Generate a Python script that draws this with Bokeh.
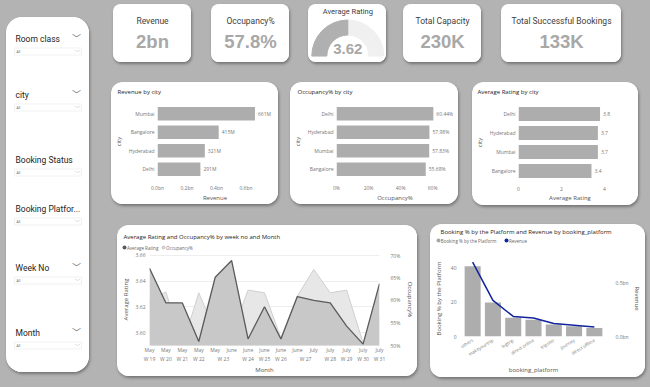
import math
from bokeh.plotting import figure
from bokeh.layouts import row, column
from bokeh.models import (ColumnDataSource, FactorRange, Range1d, LinearAxis, FixedTicker,
                          NumeralTickFormatter)
from bokeh.embed import file_html
from bokeh.resources import INLINE
from bokeh.core.properties import value

# ---------------- data ----------------
filter_names = ["Room class", "city", "Booking Status", "Booking Platfor...", "Week No", "Month"]
filter_chevron = [True, True, False, False, True, True]
filter_default = "All"

kpi_labels = ["Revenue", "Occupancy%", "Total Capacity", "Total Successful Bookings"]
kpi_values = ["2bn", "57.8%", "230K", "133K"]
gauge_label = "Average Rating"
gauge_value = 3.62
gauge_max = 7.24

rev_cities = ["Mumbai", "Bangalore", "Hyderabad", "Delhi"]
rev_values = [661e6, 415e6, 321e6, 291e6]
rev_labels = ["661M", "415M", "321M", "291M"]
rev_ticks = [0, 0.2e9, 0.4e9, 0.6e9]
rev_tick_labels = ["0.0bn", "0.2bn", "0.4bn", "0.6bn"]

occ_cities = ["Delhi", "Hyderabad", "Mumbai", "Bangalore"]
occ_values = [0.6044, 0.5798, 0.5783, 0.5568]
occ_labels = ["60.44%", "57.98%", "57.83%", "55.68%"]
occ_ticks = [0, 0.2, 0.4, 0.6]

rat_cities = ["Delhi", "Hyderabad", "Mumbai", "Bangalore"]
rat_values = [3.8, 3.7, 3.7, 3.4]
rat_labels = ["3.8", "3.7", "3.7", "3.4"]
rat_ticks = [0, 2, 4]

week_nos = ["W 19", "W 20", "W 21", "W 22", "W 23", "W 23", "W 24", "W 25", "W 26", "W 27",
            "W 27", "W 28", "W 29", "W 30", "W 31"]
week_months = ["May", "May", "May", "May", "May", "June", "June", "June", "June", "June",
               "July", "July", "July", "July", "July"]
weekly_rating = [3.650, 3.623, 3.623, 3.593, 3.643, 3.656, 3.595, 3.620, 3.595, 3.628,
                 3.625, 3.623, 3.605, 3.591, 3.638]
weekly_occ = [0.599, 0.619, 0.500, 0.617, 0.532, 0.526, 0.623, 0.617, 0.517, 0.610,
              0.669, 0.617, 0.623, 0.506, 0.560]
rating_ticks = [3.60, 3.62, 3.64, 3.66]
occ_axis_ticks = [0.50, 0.55, 0.60, 0.65, 0.70]
line_legend = ["Average Rating", "Occupancy%"]

platforms = ["others", "makeyourtrip", "logtrip", "direct online", "tripster", "journey", "direct offline"]
platform_pct = [41.0, 19.8, 10.9, 9.8, 7.0, 6.0, 4.9]
platform_rev = [0.697e9, 0.339e9, 0.188e9, 0.173e9, 0.121e9, 0.106e9, 0.088e9]
pct_ticks = [0, 20, 40]
prev_ticks = [0, 0.5e9]
prev_tick_labels = ["0.0bn", "0.5bn"]
booking_legend = ["Booking % by the Platform", "Revenue"]

# ---------------- styles ----------------
BG = "#b3b3b3"
BAR = "#adadad"
FONT = "Open Sans"
LFONT = "Roboto"
TITLE_C = "#252423"
TICK_C = "#777777"
AXL_C = "#555555"
DARK = "#5a5a5a"
NAVY = "#12239E"


def card_style(radius):
    return {"background-color": "white", "border-radius": f"{radius}px", "overflow": "hidden",
            "box-shadow": "1px 2px 3px rgba(0,0,0,0.35)"}


def plain(w, h, **kw):
    p = figure(width=w, height=h, output_backend="svg", toolbar_location=None, tools="",
               frame_align=False, **kw)
    p.outline_line_color = None
    p.border_fill_color = "white"
    p.background_fill_color = "white"
    return p


def canvas(w, h, flip=True):
    p = plain(w, h, x_range=Range1d(0, w), y_range=Range1d(h, 0) if flip else Range1d(0, h),
              x_axis_type=None, y_axis_type=None, min_border=0)
    p.grid.visible = False
    return p


def header(w, hh, title, tx, ty, legend=None):
    h = canvas(w, hh)
    h.text(x=[tx], y=[ty], text=[title], text_font=value(FONT), text_font_size="6px",
           text_color=TITLE_C, text_baseline="middle")
    if legend:
        labels, colors, bx, lx, ly = legend
        h.scatter(x=bx, y=[ly] * len(labels), size=4, fill_color=colors, line_color=None)
        h.text(x=lx, y=[ly] * len(labels), text=labels, text_font=value(FONT), text_font_size="4.5px",
               text_color="#666666", text_baseline="middle")
    return h


def style_axis(ax, label_size="5px"):
    ax.axis_line_color = None
    ax.major_tick_line_color = None
    ax.minor_tick_line_color = None
    ax.major_tick_out = 0
    ax.major_tick_in = 0
    ax.major_label_text_font_size = label_size
    ax.major_label_text_color = TICK_C
    ax.major_label_text_font = FONT
    ax.axis_label_text_font_size = "6px"
    ax.axis_label_text_color = AXL_C
    ax.axis_label_text_font = FONT
    ax.axis_label_text_font_style = "normal"


# ---------------- filter panel ----------------
PW, PH = 83, 355
panel = canvas(PW, PH)
panel.margin = (17, 0, 0, 6)
panel.styles = card_style(16)
label_y = [21, 77, 142, 191, 250, 315]
all_y = [y + 13 for y in label_y]
panel.text(x=[9] * 6, y=label_y, text=filter_names, text_font=value(LFONT), text_font_size="8.5px",
           text_color="#252423", text_baseline="middle")
panel.rect(x=[41.5] * 6, y=all_y, width=67, height=7, fill_color=None, line_color="#ededed",
           line_width=0.8)
panel.text(x=[10] * 6, y=all_y, text=[filter_default] * 6, text_font=value(FONT), text_font_size="3.5px",
           text_color="#666666", text_baseline="middle")
chev_y = [y for y, c in zip(label_y, filter_chevron) if c]
panel.text(x=[70] * len(chev_y), y=chev_y, text=["\ufe40"] * len(chev_y),
           text_font=value("Noto Sans CJK JP"), text_font_size="9px", text_color="#666666",
           text_align="center", text_baseline="middle")
panel.text(x=[71] * 6, y=all_y, text=["\ufe40"] * 6, text_font=value("Noto Sans CJK JP"),
           text_font_size="5px", text_color="#999999", text_align="center", text_baseline="middle")

# ---------------- KPI cards ----------------
KH = 58


def kpi(label, val, w, margin):
    p = canvas(w, KH)
    p.margin = margin
    p.styles = card_style(8)
    p.text(x=[w / 2], y=[16], text=[label], text_font=value(LFONT), text_font_size="8.5px",
           text_color="#404040", text_align="center", text_baseline="middle")
    p.text(x=[w / 2], y=[37], text=[val], text_font=value("Liberation Sans"), text_font_style="bold",
           text_font_size="18.5px", text_color="#a8a8a8", text_align="center", text_baseline="middle")
    return p


kpi_rev = kpi(kpi_labels[0], kpi_values[0], 78, (0, 0, 0, 2))
kpi_occ = kpi(kpi_labels[1], kpi_values[1], 78, (0, 0, 0, 20))

gauge = canvas(78, KH, flip=False)
gauge.margin = (0, 0, 0, 19)
gauge.styles = card_style(8)
gauge.annular_wedge(x=[39.3], y=[6.5], inner_radius=21, outer_radius=36, start_angle=0,
                    end_angle=math.pi, inner_radius_units="screen", outer_radius_units="screen",
                    color="#f0f0f0")
gauge.annular_wedge(x=[39.3], y=[6.5], inner_radius=21, outer_radius=36,
                    start_angle=[math.pi - math.pi * gauge_value / gauge_max], end_angle=math.pi,
                    inner_radius_units="screen", outer_radius_units="screen", color="#b0b0b0")
gauge.text(x=[39.3], y=[51.5], text=[gauge_label], text_font=value(LFONT), text_font_size="7.5px",
           text_color="#404040", text_align="center", text_baseline="middle")
gauge.text(x=[39.3], y=[13.5], text=[f"{gauge_value:.2f}"], text_font=value("Liberation Sans"),
           text_font_style="bold", text_font_size="15px", text_color="#a8a8a8",
           text_align="center", text_baseline="middle")

kpi_cap = kpi(kpi_labels[2], kpi_values[2], 78, (0, 0, 0, 17))
kpi_book = kpi(kpi_labels[3], kpi_values[3], 120, (0, 0, 0, 20))


# ---------------- bar cards ----------------
def hbar_card(w, h, margin, title, title_x, cats, vals, labels, xmax, ticks, xlabel,
              left, right, bottom, overrides=None, fmt=None):
    HH = 18
    hd = header(w, HH, title, title_x, 9)
    p = plain(w, h - HH, y_range=FactorRange(*reversed(cats)), x_range=Range1d(0, xmax),
              min_border_left=left, min_border_right=right, min_border_top=4,
              min_border_bottom=bottom)
    src = ColumnDataSource(dict(c=cats, v=vals, lab=labels))
    p.hbar(y="c", right="v", height=0.74, source=src, fill_color=BAR, line_color=None)
    p.text(x="v", y="c", text="lab", source=src, x_offset=3, text_font=value(FONT),
           text_font_size="5px", text_color=TICK_C, text_baseline="middle")
    p.grid.grid_line_color = None
    p.xaxis.ticker = FixedTicker(ticks=ticks)
    if overrides:
        p.xaxis.major_label_overrides = overrides
    if fmt:
        p.xaxis.formatter = fmt
    p.xaxis.axis_label = xlabel
    p.yaxis.axis_label = "city"
    style_axis(p.xaxis)
    style_axis(p.yaxis)
    p.xaxis.major_label_standoff = 6
    p.xaxis.axis_label_standoff = 0
    p.yaxis.major_label_standoff = 3
    p.yaxis.axis_label_standoff = 3
    return column(hd, p, margin=margin, styles=card_style(12))


rev_city = hbar_card(167, 122, (20, 0, 0, 0), "Revenue by city", 6, rev_cities, rev_values,
                     rev_labels, 0.78e9, rev_ticks, "Revenue", 40, 6, 24,
                     overrides={t: l for t, l in zip(rev_ticks, rev_tick_labels)})
occ_city = hbar_card(168, 122, (20, 0, 0, 12), "Occupancy% by city", 7, occ_cities, occ_values,
                     occ_labels, 0.73, occ_ticks, "Occupancy%", 40, 5, 24,
                     fmt=NumeralTickFormatter(format="0%"))
rat_city = hbar_card(166, 123, (20, 0, 0, 14), "Average Rating by city", 5, rat_cities, rat_values,
                     rat_labels, 4.8, rat_ticks, "Average Rating", 40, 17, 25)

# ---------------- line / area card ----------------
LW, LH, LHH = 300, 151, 27
lhd = header(LW, LHH, "Average Rating and Occupancy% by week no and Month", 6, 11,
             legend=(line_legend, [DARK, "#d0d0d0"], [7, 46], [9.5, 48.5], 22))
xi = list(range(len(week_nos)))
lc = plain(LW, LH - LHH, x_range=Range1d(xi[0], xi[-1]), y_range=Range1d(3.5899, 3.6615),
           min_border_left=32, min_border_right=33, min_border_top=1, min_border_bottom=28)
lc.extra_y_ranges = {"occ": Range1d(0.50, 0.7043)}
lsrc = ColumnDataSource(dict(x=xi, r=weekly_rating, o=weekly_occ))
lc.varea(x="x", y1=0.40, y2="o", source=lsrc, y_range_name="occ", fill_color="#e7e7e7")
lc.line(x="x", y="o", source=lsrc, y_range_name="occ", line_color="#cfcfcf", line_width=1)
lc.varea(x="x", y1=3.5, y2="r", source=lsrc, fill_color="#c8c8c8")
lc.line(x="x", y="r", source=lsrc, line_color=DARK, line_width=1.3)
lc.xgrid.grid_line_color = None
lc.ygrid.grid_line_color = "#eeeeee"
lc.yaxis.ticker = FixedTicker(ticks=rating_ticks)
lc.yaxis.formatter = NumeralTickFormatter(format="0.00")
lc.yaxis.axis_label = "Average Rating"
occ_ax = LinearAxis(y_range_name="occ", ticker=FixedTicker(ticks=occ_axis_ticks),
                    formatter=NumeralTickFormatter(format="0%"), axis_label="Occupancy%")
lc.add_layout(occ_ax, "right")
# month (inner) labels
lc.xaxis.ticker = FixedTicker(ticks=xi)
lc.xaxis.major_label_overrides = {i: m for i, m in zip(xi, week_months)}
# week (outer group) labels, centred over each run of equal week numbers
groups = []
for i, wk in enumerate(week_nos):
    if groups and groups[-1][0] == wk:
        groups[-1][1].append(i)
    else:
        groups.append((wk, [i]))
wk_pos = [sum(ix) / len(ix) for _, ix in groups]
wk_ax = LinearAxis(ticker=FixedTicker(ticks=wk_pos),
                   major_label_overrides={p_: g[0] for p_, g in zip(wk_pos, groups)},
                   axis_label="Month")
lc.add_layout(wk_ax, "below")
for ax in [lc.xaxis[0], wk_ax, lc.yaxis[0], occ_ax]:
    style_axis(ax)
lc.xaxis[0].major_label_standoff = 1
wk_ax.major_label_standoff = 0
wk_ax.axis_label_standoff = 1
lc.yaxis.major_label_standoff = 4
lc.yaxis.axis_label_standoff = 3
occ_ax.major_label_standoff = 11
occ_ax.axis_label_standoff = 3
line_card = column(lhd, lc, margin=(20, 0, 0, 6), styles=card_style(12))

# ---------------- booking platform card ----------------
BW, BH, BHH = 215, 153, 28
bhd = header(BW, BHH, "Booking % by the Platform and Revenue by booking_platform", 10, 7,
             legend=(booking_legend, ["#a6a6a6", NAVY], [8, 76], [10.3, 78.5], 16))
bk = plain(BW, BH - BHH, x_range=FactorRange(*platforms), y_range=Range1d(0, 44.4),
           min_border_left=32, min_border_right=41, min_border_top=8, min_border_bottom=39)
bk.extra_y_ranges = {"rev": Range1d(0, 0.712e9)}
bsrc = ColumnDataSource(dict(p=platforms, pct=platform_pct, rev=platform_rev))
bk.vbar(x="p", top="pct", width=0.79, source=bsrc, fill_color=BAR, line_color=None)
bk.line(x="p", y="rev", source=bsrc, y_range_name="rev", line_color=NAVY, line_width=1.5)
bk.grid.grid_line_color = None
bk.yaxis.ticker = FixedTicker(ticks=pct_ticks)
bk.yaxis.axis_label = "Booking % by the Platform"
rev_ax = LinearAxis(y_range_name="rev", ticker=FixedTicker(ticks=prev_ticks),
                    major_label_overrides={t: l for t, l in zip(prev_ticks, prev_tick_labels)},
                    axis_label="Revenue")
bk.add_layout(rev_ax, "right")
bk.xaxis.axis_label = "booking_platform"
for ax in [bk.xaxis[0], bk.yaxis[0], rev_ax]:
    style_axis(ax)
bk.xaxis.major_label_text_font_size = "4.5px"
bk.xaxis.major_label_orientation = 0.55
bk.xaxis.major_label_standoff = 3
bk.xaxis.axis_label_standoff = 4
bk.yaxis.major_label_standoff = 6
bk.yaxis.axis_label_standoff = 5
rev_ax.major_label_standoff = 11
rev_ax.axis_label_standoff = 1
book_card = column(bhd, bk, margin=(19, 0, 0, 13), styles=card_style(12))

# ---------------- layout ----------------
kpi_row = row(kpi_rev, kpi_occ, gauge, kpi_cap, kpi_book, margin=(4, 0, 0, 0))
bar_row = row(rev_city, occ_city, rat_city)
bottom_row = row(line_card, book_card)
right_col = column(kpi_row, bar_row, bottom_row, margin=(0, 0, 0, 22))
root = row(panel, right_col, width=650, height=387, sizing_mode="fixed",
           styles={"background-color": BG})

open("out.html", "w").write(file_html(root, INLINE))
